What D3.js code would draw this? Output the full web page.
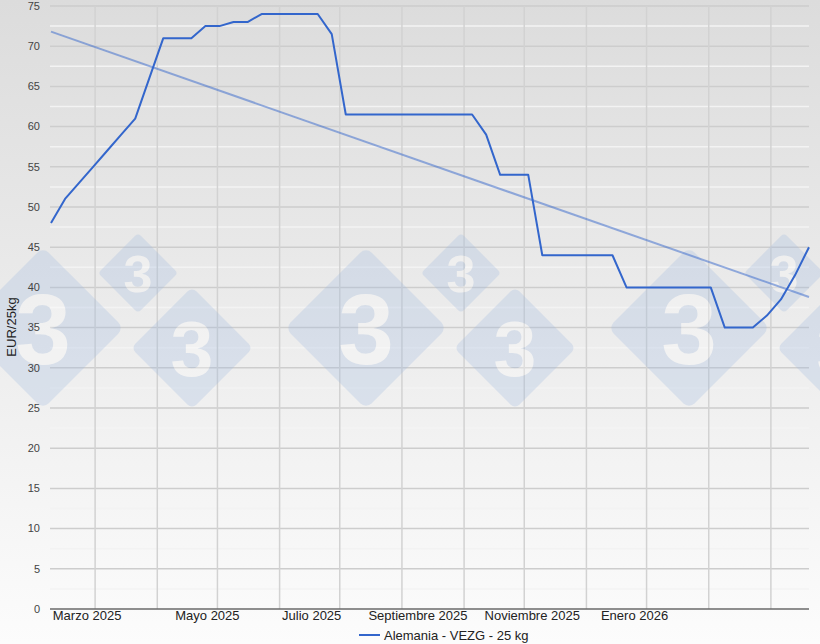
<!DOCTYPE html>
<html>
<head>
<meta charset="utf-8">
<script src="https://cdn.jsdelivr.net/npm/d3@7"></script>
<style>
  html, body { margin: 0; padding: 0; background: #fff; }
  svg { display: block; font-family: "Liberation Sans", Arial, sans-serif; }
</style>
</head>
<body>
<svg id="chart" width="820" height="644"></svg>
<script>
// ---- data ----
const weekDates = [
  "2025-02-07","2025-02-14","2025-02-21","2025-02-28",
  "2025-03-07","2025-03-14","2025-03-21","2025-03-28",
  "2025-04-04","2025-04-11","2025-04-18","2025-04-25",
  "2025-05-02","2025-05-09","2025-05-16","2025-05-23","2025-05-30",
  "2025-06-06","2025-06-13","2025-06-20","2025-06-27",
  "2025-07-04","2025-07-11","2025-07-18","2025-07-25",
  "2025-08-01","2025-08-08","2025-08-15","2025-08-22","2025-08-29",
  "2025-09-05","2025-09-12","2025-09-19","2025-09-26",
  "2025-10-03","2025-10-10","2025-10-17","2025-10-24","2025-10-31",
  "2025-11-07","2025-11-14","2025-11-21","2025-11-28",
  "2025-12-05","2025-12-12","2025-12-19","2025-12-26",
  "2026-01-02","2026-01-09","2026-01-16","2026-01-23","2026-01-30",
  "2026-02-06","2026-02-13","2026-02-20"
];
const vezgPrices = [
  48, 51, 53, 55, 57, 59, 61, 66,
  71, 71, 71, 72.5, 72.5, 73, 73, 74,
  74, 74, 74, 74, 71.5, 61.5, 61.5, 61.5,
  61.5, 61.5, 61.5, 61.5, 61.5, 61.5, 61.5, 59,
  54, 54, 54, 44, 44, 44, 44, 44,
  44, 40, 40, 40, 40, 40, 40, 40,
  35, 35, 35, 36.5, 38.5, 41.5, 45
];
const seriesName = "Alemania - VEZG - 25 kg";
const yAxisTitle = "EUR/25kg";
const yTicks = [0,5,10,15,20,25,30,35,40,45,50,55,60,65,70,75];
const yMinorTicks = [2.5,7.5,12.5,17.5,22.5,27.5,32.5,37.5,42.5,47.5,52.5,57.5,62.5,67.5,72.5];
const monthGridDates = [
  "2025-03-01","2025-04-01","2025-05-01","2025-06-01","2025-07-01","2025-08-01",
  "2025-09-01","2025-10-01","2025-11-01","2025-12-01","2026-01-01","2026-02-01"
];
const xLabelTexts = ["Marzo 2025","Mayo 2025","Julio 2025","Septiembre 2025","Noviembre 2025","Enero 2026"];
const xLabelAnchors = ["2025-02-25","2025-04-26","2025-06-17","2025-08-09","2025-10-05","2025-11-25"];

// ---- setup ----
const W = 820, H = 644;
const M = { left: 50, right: 809, top: 6, bottom: 609 };
const parse = d3.utcParse("%Y-%m-%d");
const data = weekDates.map((d, i) => ({ date: parse(d), value: vezgPrices[i] }));

const svg = d3.select("#chart");

const defs = svg.append("defs");
const grad = defs.append("linearGradient").attr("id", "bg").attr("x1", 0).attr("y1", 0).attr("x2", 0).attr("y2", 1);
grad.append("stop").attr("offset", "0%").attr("stop-color", "#dcdcdc");
grad.append("stop").attr("offset", "100%").attr("stop-color", "#fcfcfc");
svg.append("rect").attr("width", W).attr("height", H).attr("fill", "url(#bg)");

const x = d3.scaleUtc()
  .domain([parse(weekDates[0]), parse(weekDates[weekDates.length - 1])])
  .range([M.left + 1, M.right]);
const y = d3.scaleLinear().domain([0, 75]).range([M.bottom, M.top]);

// minor horizontal gridlines
svg.append("g").selectAll("line").data(yMinorTicks).join("line")
  .attr("x1", M.left).attr("x2", M.right)
  .attr("y1", d => y(d)).attr("y2", d => y(d))
  .attr("stroke", "#f3f3f3").attr("stroke-width", 1.5);

// major horizontal gridlines
svg.append("g").selectAll("line").data(yTicks.filter(d => d > 0)).join("line")
  .attr("x1", M.left).attr("x2", M.right)
  .attr("y1", d => y(d)).attr("y2", d => y(d))
  .attr("stroke", "#cdcdcd").attr("stroke-width", 1.5);

// vertical month gridlines
svg.append("g").selectAll("line").data(monthGridDates.map(parse)).join("line")
  .attr("x1", d => x(d)).attr("x2", d => x(d))
  .attr("y1", M.top).attr("y2", M.bottom)
  .attr("stroke", "#d2d2d2").attr("stroke-width", 1.5);

// watermark (decorative logo)
const wmGroups = [0, 323, 646];
const wmParts = [
  { dx: 43, dy: 328, h: 81, fs: 100 },
  { dx: 138, dy: 273, h: 40, fs: 52 },
  { dx: 192, dy: 348, h: 61, fs: 77 }
];
const wm = svg.append("g").attr("opacity", 0.28);
wmGroups.forEach(off => {
  wmParts.forEach(p => {
    const s = p.h * Math.SQRT2;
    const g = wm.append("g").attr("transform", `translate(${p.dx + off},${p.dy})`);
    g.append("rect")
      .attr("x", -s / 2).attr("y", -s / 2).attr("width", s).attr("height", s)
      .attr("rx", p.h * 0.1)
      .attr("transform", "rotate(45)")
      .attr("fill", "#a0bae0");
    g.append("text")
      .attr("text-anchor", "middle").attr("dy", "0.36em")
      .attr("font-size", p.fs).attr("font-weight", "bold")
      .attr("font-family", "'Liberation Sans', Arial, sans-serif")
      .attr("fill", "#ffffff")
      .text("3");
  });
});

// x axis baseline
svg.append("line")
  .attr("x1", M.left).attr("x2", M.right)
  .attr("y1", y(0)).attr("y2", y(0))
  .attr("stroke", "#6a6a6a").attr("stroke-width", 1.5);

// y tick labels
svg.append("g").selectAll("text").data(yTicks).join("text")
  .attr("x", 40).attr("y", d => y(d)).attr("dy", "0.35em")
  .attr("text-anchor", "end")
  .attr("font-size", 11).attr("fill", "#444")
  .text(d => d);

// x labels
svg.append("g").selectAll("text").data(xLabelTexts).join("text")
  .attr("x", (d, i) => x(parse(xLabelAnchors[i])))
  .attr("y", 620)
  .attr("text-anchor", "middle")
  .attr("font-size", 13).attr("fill", "#222")
  .text(d => d);

// y axis title
svg.append("text")
  .attr("transform", `translate(16,${327}) rotate(-90)`)
  .attr("text-anchor", "middle")
  .attr("font-size", 13).attr("fill", "#222")
  .text(yAxisTitle);

// trend line (least squares over the data)
const n = data.length;
const xs = data.map(d => +d.date), ys = data.map(d => d.value);
const mx = d3.mean(xs), my = d3.mean(ys);
const slope = d3.sum(xs.map((v, i) => (v - mx) * (ys[i] - my))) / d3.sum(xs.map(v => (v - mx) ** 2));
const icpt = my - slope * mx;
const trend = [data[0].date, data[n - 1].date].map(d => ({ date: d, value: icpt + slope * (+d) }));
const line = d3.line().x(d => x(d.date)).y(d => y(d.value));
svg.append("path").datum(trend)
  .attr("d", line).attr("fill", "none")
  .attr("stroke", "#3366cc").attr("stroke-opacity", 0.5).attr("stroke-width", 2);

// data line
svg.append("path").datum(data)
  .attr("d", line).attr("fill", "none")
  .attr("stroke", "#3366cc").attr("stroke-width", 2).attr("stroke-linejoin", "round");

// legend
const lg = svg.append("g").attr("transform", "translate(359,635)");
lg.append("line").attr("x1", 0).attr("x2", 21).attr("y1", 0).attr("y2", 0)
  .attr("stroke", "#3366cc").attr("stroke-width", 2);
lg.append("text").attr("x", 25).attr("y", 0).attr("dy", "0.35em")
  .attr("font-size", 13).attr("fill", "#222").text(seriesName);
</script>
</body>
</html>
